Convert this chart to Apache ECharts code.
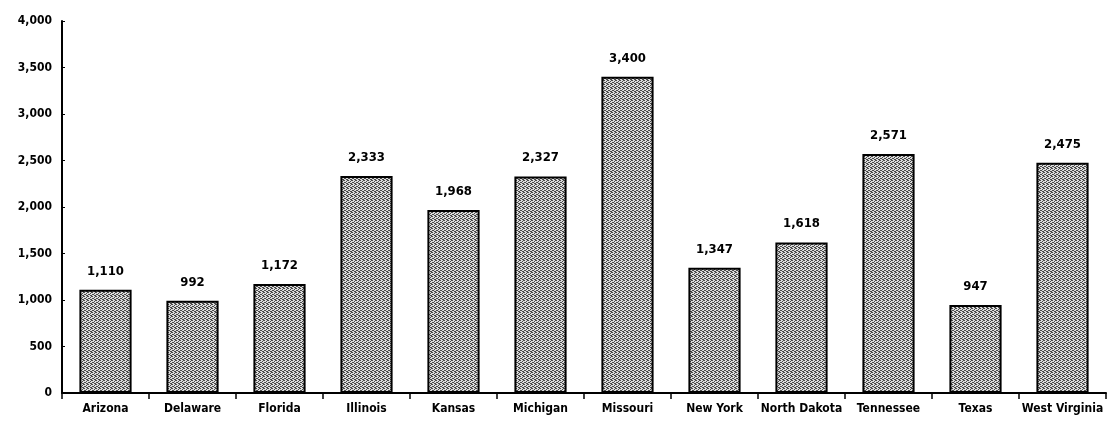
<!DOCTYPE html>
<html>
<head>
<meta charset="utf-8">
<script src="https://cdn.jsdelivr.net/npm/echarts@6/dist/echarts.min.js"></script>
<style>
  html, body { margin: 0; padding: 0; background: #fff; }
  #chart { width: 1111px; height: 429px; }
</style>
</head>
<body>
<div id="chart"></div>
<script>
var states = ['Arizona', 'Delaware', 'Florida', 'Illinois', 'Kansas', 'Michigan',
  'Missouri', 'New York', 'North Dakota', 'Tennessee', 'Texas', 'West Virginia'];
var counts = [1110, 992, 1172, 2333, 1968, 2327, 3400, 1347, 1618, 2571, 947, 2475];
var yTicks = [0, 500, 1000, 1500, 2000, 2500, 3000, 3500, 4000];

var font = '"DejaVu Sans Condensed", "Liberation Sans Narrow", sans-serif';

function fmt(v) {
  return String(v).replace(/\B(?=(\d{3})+(?!\d))/g, ',');
}

// small stipple tile for the bar fill
var tile = document.createElement('canvas');
tile.width = 4;
tile.height = 4;
var tctx = tile.getContext('2d');
tctx.fillStyle = '#dcdcdc';
tctx.fillRect(0, 0, 4, 4);
tctx.fillStyle = '#4a4a4a';
[[0, 0], [2, 1], [1, 2], [3, 3], [2, 3], [0, 2], [3, 0]].forEach(function (p) {
  tctx.fillRect(p[0], p[1], 1, 1);
});

var chart = echarts.init(document.getElementById('chart'));
chart.setOption({
  animation: false,
  grid: { left: 62, right: 5, top: 21, bottom: 36 },
  xAxis: {
    type: 'category',
    data: states,
    axisLine: { lineStyle: { color: '#000', width: 2 } },
    axisTick: { show: true, interval: 0, length: 6, lineStyle: { color: '#000', width: 1.5 } },
    axisLabel: {
      interval: 0,
      color: '#000', fontFamily: font, fontWeight: 'bold', fontSize: 12, margin: 10
    }
  },
  yAxis: {
    type: 'value',
    min: yTicks[0],
    max: yTicks[yTicks.length - 1],
    interval: 500,
    splitLine: { show: false },
    axisLine: { show: true, lineStyle: { color: '#000', width: 2 } },
    axisTick: { show: true, inside: true, length: 3, lineStyle: { color: '#000' } },
    axisLabel: {
      color: '#000', fontFamily: font, fontWeight: 'bold', fontSize: 12, margin: 10,
      formatter: fmt
    }
  },
  series: [{
    type: 'bar',
    data: counts,
    barWidth: '60%',
    itemStyle: {
      color: { image: tile, repeat: 'repeat' },
      borderColor: '#000',
      borderWidth: 2
    },
    label: {
      show: true,
      position: 'top',
      distance: 12,
      color: '#000',
      fontFamily: font,
      fontWeight: 'bold',
      fontSize: 13,
      formatter: function (p) { return fmt(p.value); }
    }
  }]
});
</script>
</body>
</html>
